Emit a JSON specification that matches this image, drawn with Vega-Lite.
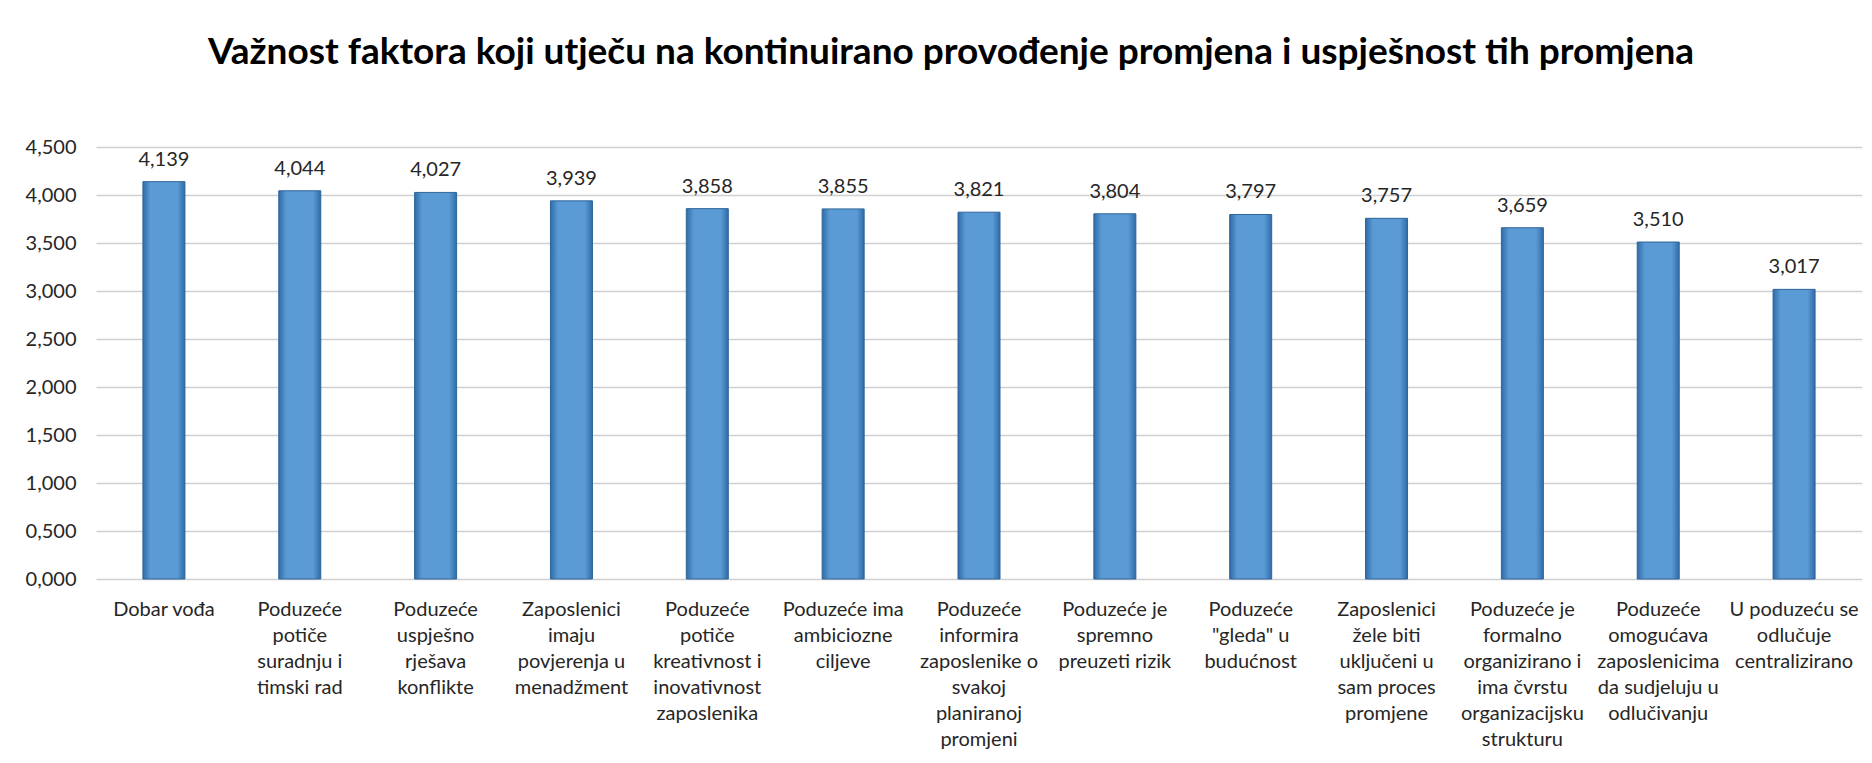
{
  "$schema": "https://vega.github.io/schema/vega-lite/v6.json",
  "autosize": "none",
  "width": 1766,
  "height": 432,
  "padding": {"left": 96, "top": 147, "right": 10, "bottom": 184},
  "background": "#ffffff",
  "title": {
    "text": "Važnost faktora koji utječu na kontinuirano provođenje promjena i uspješnost tih promjena",
    "font": "Lato",
    "fontSize": 37,
    "fontWeight": "bold",
    "color": "#000000",
    "anchor": "middle",
    "baseline": "alphabetic",
    "offset": 36,
    "dx": -28
  },
  "config": {
    "locale": {"number": {"decimal": ",", "thousands": ".", "grouping": [3], "currency": ["", ""]}},
    "view": {"stroke": null},
    "font": "Lato"
  },
  "data": {
    "values": [
      {"faktor": "Dobar vođa", "vrijednost": 4.139},
      {"faktor": "Poduzeće\npotiče\nsuradnju i\ntimski rad", "vrijednost": 4.044},
      {"faktor": "Poduzeće\nuspješno\nrješava\nkonflikte", "vrijednost": 4.027},
      {"faktor": "Zaposlenici\nimaju\npovjerenja u\nmenadžment", "vrijednost": 3.939},
      {"faktor": "Poduzeće\npotiče\nkreativnost i\ninovativnost\nzaposlenika", "vrijednost": 3.858},
      {"faktor": "Poduzeće ima\nambiciozne\nciljeve", "vrijednost": 3.855},
      {"faktor": "Poduzeće\ninformira\nzaposlenike o\nsvakoj\nplaniranoj\npromjeni", "vrijednost": 3.821},
      {"faktor": "Poduzeće je\nspremno\npreuzeti rizik", "vrijednost": 3.804},
      {"faktor": "Poduzeće\n\"gleda\" u\nbudućnost", "vrijednost": 3.797},
      {"faktor": "Zaposlenici\nžele biti\nuključeni u\nsam proces\npromjene", "vrijednost": 3.757},
      {"faktor": "Poduzeće je\nformalno\norganizirano i\nima čvrstu\norganizacijsku\nstrukturu", "vrijednost": 3.659},
      {"faktor": "Poduzeće\nomogućava\nzaposlenicima\nda sudjeluju u\nodlučivanju", "vrijednost": 3.51},
      {"faktor": "U poduzeću se\nodlučuje\ncentralizirano", "vrijednost": 3.017}
    ]
  },
  "encoding": {
    "x": {
      "field": "faktor",
      "type": "nominal",
      "sort": null,
      "title": null,
      "scale": {"paddingInner": 0, "paddingOuter": 0},
      "axis": {
        "labelAngle": 0,
        "labelExpr": "split(datum.label, '\\n')",
        "labelFontSize": 20,
        "labelColor": "#262626",
        "labelLineHeight": 26,
        "labelBaseline": "top",
        "labelPadding": 20,
        "ticks": false,
        "tickSize": 0,
        "domain": false,
        "labelLimit": 0
      }
    },
    "y": {
      "field": "vrijednost",
      "type": "quantitative",
      "title": null,
      "scale": {"domain": [0, 4.5], "nice": false},
      "axis": {
        "values": [0, 0.5, 1, 1.5, 2, 2.5, 3, 3.5, 4, 4.5],
        "format": ".3f",
        "labelFontSize": 20,
        "labelColor": "#262626",
        "labelPadding": 20,
        "ticks": false,
        "tickSize": 0,
        "domain": false,
        "grid": true,
        "gridColor": "#D0D0D0",
        "gridWidth": 1.5
      }
    }
  },
  "layer": [
    {
      "mark": {
        "type": "bar",
        "width": 42,
        "stroke": "#2E6499",
        "strokeWidth": 1,
        "color": {
          "gradient": "linear",
          "x1": 0, "x2": 1, "y1": 0, "y2": 0,
          "stops": [
            {"offset": 0, "color": "#2F6BA8"},
            {"offset": 0.18, "color": "#5B9BD5"},
            {"offset": 0.82, "color": "#5B9BD5"},
            {"offset": 1, "color": "#2F6BA8"}
          ]
        }
      }
    },
    {
      "mark": {
        "type": "text",
        "baseline": "alphabetic",
        "dy": -16,
        "fontSize": 20,
        "color": "#262626"
      },
      "encoding": {
        "text": {"field": "vrijednost", "type": "quantitative", "format": ".3f"}
      }
    }
  ]
}
